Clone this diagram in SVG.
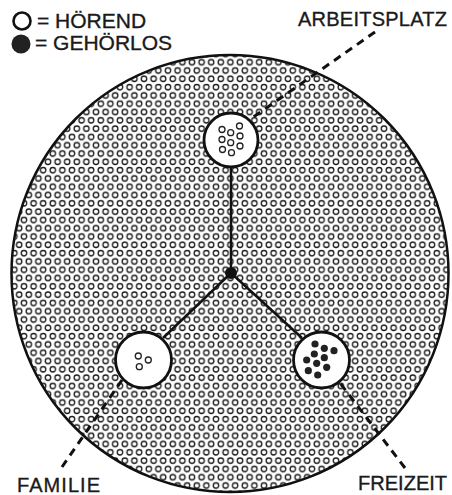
<svg xmlns="http://www.w3.org/2000/svg" width="452" height="495" viewBox="0 0 452 495">
<style>
text{font-family:"Liberation Sans",Arial,sans-serif;fill:#1a1a1a;stroke:#1a1a1a;stroke-width:0.35}
.lbl{font-size:20px}
.leg{font-size:21px}
.ln{stroke:#111;stroke-width:2.5;fill:none}
.dash{stroke:#111;stroke-width:3;stroke-dasharray:8 6;fill:none}
.node{fill:#fff;stroke:#111;stroke-width:2.8}
.ring{fill:none;stroke:#222;stroke-width:1.3}
.dot{fill:#222}
</style>
<defs>
<pattern id="hex" patternUnits="userSpaceOnUse" width="9.6" height="16.6" x="0" y="0">
<circle cx="4.8" cy="4.15" r="2.7" fill="none" stroke="#1a1a1a" stroke-width="1.3"/>
<circle cx="0" cy="12.45" r="2.7" fill="none" stroke="#1a1a1a" stroke-width="1.3"/>
<circle cx="9.6" cy="12.45" r="2.7" fill="none" stroke="#1a1a1a" stroke-width="1.3"/>
</pattern>
</defs>
<rect width="452" height="495" fill="#fff"/>
<g id="legend">
<circle cx="22" cy="21" r="8.5" fill="none" stroke="#111" stroke-width="2.6"/>
<circle cx="21" cy="44" r="9.5" fill="#222"/>
<text class="leg" x="37" y="28">= HÖREND</text>
<text class="leg" x="35" y="50">= GEHÖRLOS</text>
</g>
<g id="gesellschaft">
<circle cx="230" cy="273.5" r="218.5" fill="#fff"/>
<circle cx="230" cy="273.5" r="218.5" fill="url(#hex)" stroke="#111" stroke-width="2.5"/>
</g>
<g id="connectors">
<line class="ln" x1="231" y1="273" x2="231" y2="166"/>
<line class="ln" x1="231" y1="273" x2="163" y2="338"/>
<line class="ln" x1="231" y1="273" x2="302" y2="338"/>
<line class="dash" x1="375" y1="32" x2="252" y2="118"/>
<line class="dash" x1="62" y1="467" x2="122" y2="380"/>
<line class="dash" x1="405" y1="468" x2="340" y2="383"/>
</g>
<g id="zentrum">
<circle cx="231" cy="273" r="6" fill="#111"/>
</g>
<g id="arbeitsplatz">
<circle class="node" cx="231" cy="140" r="27"/>
<circle class="ring" cx="222" cy="129.5" r="3"/>
<circle class="ring" cx="222" cy="139.5" r="3"/>
<circle class="ring" cx="222.5" cy="149.5" r="3"/>
<circle class="ring" cx="230.7" cy="132.7" r="3"/>
<circle class="ring" cx="230.7" cy="142.7" r="3"/>
<circle class="ring" cx="231.5" cy="152.7" r="3"/>
<circle class="ring" cx="239.5" cy="126" r="3"/>
<circle class="ring" cx="240" cy="136" r="3"/>
<circle class="ring" cx="240" cy="146" r="3"/>
<text class="lbl" x="447" y="26" text-anchor="end" font-size="19" textLength="149">ARBEITSPLATZ</text>
</g>
<g id="familie">
<circle class="node" cx="143.5" cy="360" r="28"/>
<circle class="ring" cx="138.3" cy="356" r="3"/>
<circle class="ring" cx="148.3" cy="360" r="3"/>
<circle class="ring" cx="139.3" cy="366.7" r="3"/>
<text class="lbl" x="17" y="492" textLength="83">FAMILIE</text>
</g>
<g id="freizeit">
<circle class="node" cx="321.5" cy="360" r="28"/>
<circle class="dot" cx="315" cy="344" r="3.6"/>
<circle class="dot" cx="324.3" cy="348.3" r="3.6"/>
<circle class="dot" cx="334" cy="350.7" r="3.6"/>
<circle class="dot" cx="314.3" cy="354" r="3.6"/>
<circle class="dot" cx="324.3" cy="357.7" r="3.6"/>
<circle class="dot" cx="306.7" cy="360" r="3.6"/>
<circle class="dot" cx="316.7" cy="363.3" r="3.6"/>
<circle class="dot" cx="326.7" cy="367.3" r="3.6"/>
<circle class="dot" cx="308.3" cy="370.7" r="3.6"/>
<circle class="dot" cx="317.7" cy="375" r="3.6"/>
<text class="lbl" x="447" y="490" text-anchor="end">FREIZEIT</text>
</g>
</svg>
